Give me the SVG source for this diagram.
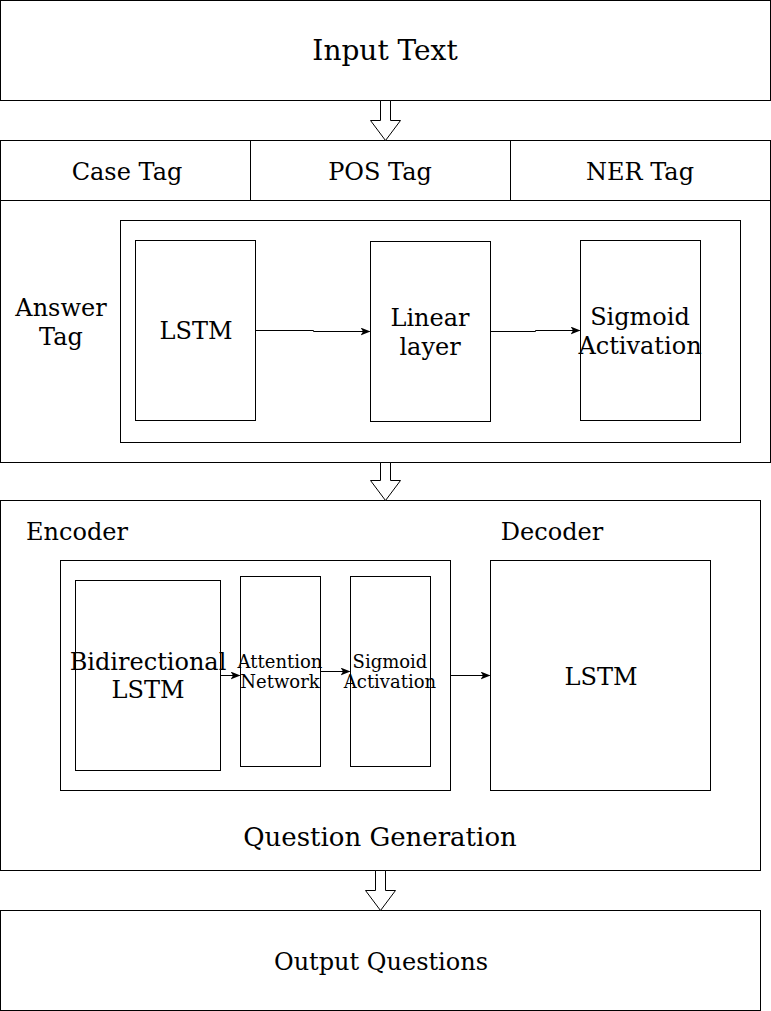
<svg xmlns="http://www.w3.org/2000/svg" width="771" height="1011" viewBox="0 0 771 1011">
<style>
rect{fill:#fff;stroke:#000;stroke-width:1}
.t{font-family:"DejaVu Serif",serif;fill:#000;text-anchor:middle}
.c{stroke:#000;stroke-width:1;fill:none}
.blk{fill:#fff;stroke:#000;stroke-width:1}
</style>
<defs>
<marker id="ah" markerWidth="10" markerHeight="8" refX="9" refY="4" orient="auto" markerUnits="userSpaceOnUse">
<path d="M0,0 L10,4 L0,8 L2.5,4 Z" fill="#000"/>
</marker>
</defs>
<rect width="771" height="1011" style="stroke:none"/>
<g id="input-text">
<rect x="0.5" y="0.5" width="770" height="100"/>
<text class="t" x="385" y="60" font-size="28">Input Text</text>
</g>
<g id="tagging">
<rect x="0.5" y="140.5" width="770" height="60"/>
<line class="c" x1="250.5" y1="140.5" x2="250.5" y2="200.5"/>
<line class="c" x1="510.5" y1="140.5" x2="510.5" y2="200.5"/>
<text class="t" x="127" y="180" font-size="24">Case Tag</text>
<text class="t" x="380" y="180" font-size="24">POS Tag</text>
<text class="t" x="640" y="180" font-size="24">NER Tag</text>
</g>
<g id="answer-tag">
<rect x="0.5" y="200.5" width="770" height="262"/>
<text class="t" x="61" y="316" font-size="24">Answer</text>
<text class="t" x="61" y="345" font-size="24">Tag</text>
</g>
<g id="answer-inner">
<rect x="120.5" y="220.5" width="620" height="222"/>
</g>
<g id="lstm1">
<rect x="135.5" y="240.5" width="120" height="180"/>
<text class="t" x="196" y="339" font-size="24">LSTM</text>
</g>
<g id="linear">
<rect x="370.5" y="241.5" width="120" height="180"/>
<text class="t" x="430" y="326" font-size="24">Linear</text>
<text class="t" x="430" y="355" font-size="24">layer</text>
</g>
<g id="sigmoid1">
<rect x="580.5" y="240.5" width="120" height="180"/>
<text class="t" x="640" y="325" font-size="24">Sigmoid</text>
<text class="t" x="640" y="354" font-size="24">Activation</text>
</g>
<g id="qg">
<rect x="0.5" y="500.5" width="760" height="370"/>
<text class="t" x="380" y="846" font-size="26">Question Generation</text>
<text class="t" x="77" y="540" font-size="24">Encoder</text>
<text class="t" x="552" y="540" font-size="24">Decoder</text>
</g>
<g id="encoder">
<rect x="60.5" y="560.5" width="390" height="230"/>
</g>
<g id="bilstm">
<rect x="75.5" y="580.5" width="145" height="190"/>
<text class="t" x="148" y="670" font-size="24">Bidirectional</text>
<text class="t" x="148" y="698" font-size="24">LSTM</text>
</g>
<g id="attention">
<rect x="240.5" y="576.5" width="80" height="190"/>
<text class="t" x="280" y="668" font-size="18">Attention</text>
<text class="t" x="280" y="688" font-size="18">Network</text>
</g>
<g id="sigmoid2">
<rect x="350.5" y="576.5" width="80" height="190"/>
<text class="t" x="390" y="668" font-size="18">Sigmoid</text>
<text class="t" x="390" y="688" font-size="18">Activation</text>
</g>
<g id="decoder">
<rect x="490.5" y="560.5" width="220" height="230"/>
<text class="t" x="601" y="685" font-size="24">LSTM</text>
</g>
<g id="output">
<rect x="0.5" y="910.5" width="760" height="100"/>
<text class="t" x="381" y="970" font-size="24">Output Questions</text>
</g>
<g id="connectors">
<path class="blk" d="M380.5,100.5 L390.5,100.5 L390.5,120.5 L400.5,120.5 L385.5,140.5 L370.5,120.5 L380.5,120.5 Z"/>
<path class="blk" d="M380.5,462.5 L390.5,462.5 L390.5,480.5 L400.5,480.5 L385.5,500.5 L370.5,480.5 L380.5,480.5 Z"/>
<path class="blk" d="M375.5,870.5 L385.5,870.5 L385.5,890.5 L395.5,890.5 L380.5,910.5 L365.5,890.5 L375.5,890.5 Z"/>
<path class="c" d="M255.5,330.5 L313.5,330.5 L313.5,331.5 L369.5,331.5" marker-end="url(#ah)"/>
<path class="c" d="M490.5,331.5 L535.5,331.5 L535.5,330.5 L579.5,330.5" marker-end="url(#ah)"/>
<path class="c" d="M220.5,675.5 L239.5,675.5" marker-end="url(#ah)"/>
<path class="c" d="M320.5,671.5 L349.5,671.5" marker-end="url(#ah)"/>
<path class="c" d="M450.5,675.5 L489.5,675.5" marker-end="url(#ah)"/>
</g>
</svg>
